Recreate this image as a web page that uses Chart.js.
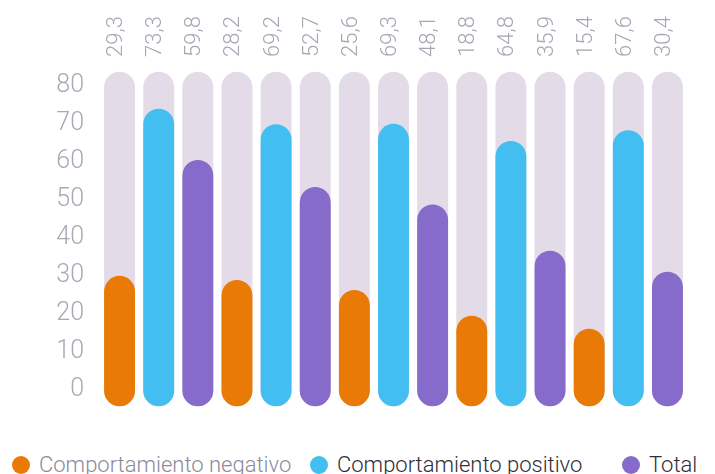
<!DOCTYPE html>
<html lang="es">
  <head>
    <meta charset="UTF-8" />
    <title>Comportamiento</title>
    <script src="https://cdn.jsdelivr.net/npm/chart.js"></script>
    <style>
      body { margin: 0; background: #fff; font-family: Roboto, sans-serif; }
      #wrap { position: relative; width: 715px; height: 474px; overflow: hidden; }
      #chart { position: absolute; left: 0; top: 0; }
      .legend-item { position: absolute; top: 452px; display: flex; align-items: center;
        font-size: 22px; font-weight: 300; white-space: nowrap; }
      .legend-item .dot { width: 18px; height: 18px; border-radius: 50%; margin-right: 9px; }
    </style>
  </head>
  <body>
    <div id="wrap">
      <canvas id="chart" width="715" height="440"></canvas>
      <div id="legend"></div>
    </div>
    <script>
      const categories = ["1", "2", "3", "4", "5", "6", "7", "8", "9", "10", "11", "12", "13", "14", "15"];
      const negativo = [29.3, null, null, 28.2, null, null, 25.6, null, null, 18.8, null, null, 15.4, null, null];
      const positivo = [null, 73.3, null, null, 69.2, null, null, 69.3, null, null, 64.8, null, null, 67.6, null];
      const total = [null, null, 59.8, null, null, 52.7, null, null, 48.1, null, null, 35.9, null, null, 30.4];
      const yTicks = [0, 10, 20, 30, 40, 50, 60, 70, 80];

      const trackTop = 83;
      const barBase = -5;

      // floating bars so every pill starts a little under zero
      const toRange = (arr) => arr.map((v) => (v === null ? null : [barBase, v]));

      const pill = {
        grouped: false,
        barPercentage: 0.79,
        categoryPercentage: 1,
        borderRadius: 16,
        borderSkipped: false,
      };

      const datasets = [
        { label: "Comportamiento negativo", data: toRange(negativo), backgroundColor: "#e87a05", order: 1, legendColor: "#8e8a9a", ...pill },
        { label: "Comportamiento positivo", data: toRange(positivo), backgroundColor: "#42bff0", order: 1, legendColor: "#2f2d3a", ...pill },
        { label: "Total", data: toRange(total), backgroundColor: "#866bcb", order: 1, legendColor: "#2f2d3a", ...pill },
        { label: "track", data: categories.map(() => [barBase, trackTop]), backgroundColor: "#e3dbe7", order: 2, ...pill },
      ];

      const valueLabels = {
        id: "valueLabels",
        afterDatasetsDraw(chart) {
          const ctx = chart.ctx;
          const x = chart.scales.x;
          ctx.save();
          ctx.font = "300 22px Roboto";
          ctx.fillStyle = "#aaa5b3";
          ctx.textAlign = "left";
          ctx.textBaseline = "middle";
          categories.forEach((c, i) => {
            const v = negativo[i] ?? positivo[i] ?? total[i];
            const label = v.toFixed(1).replace(".", ",");
            ctx.save();
            ctx.translate(x.getPixelForValue(i) - 3, 57);
            ctx.rotate(-Math.PI / 2);
            ctx.fillText(label, 0, 0);
            ctx.restore();
          });
          ctx.restore();
        },
      };

      const chart = new Chart(document.getElementById("chart"), {
        type: "bar",
        data: { labels: categories, datasets: datasets },
        options: {
          responsive: false,
          animation: false,
          layout: { padding: { top: 68, right: 28, bottom: 30, left: 0 } },
          plugins: { legend: { display: false }, tooltip: { enabled: false } },
          scales: {
            x: { display: false },
            y: {
              min: -6,
              max: 84,
              afterBuildTicks: (axis) => { axis.ticks = yTicks.map((v) => ({ value: v })); },
              afterFit: (axis) => { axis.width = 100; },
              grid: { display: false },
              border: { display: false },
              ticks: { color: "#aca7b5", font: { family: "Roboto", size: 25, weight: 300 }, padding: 8, labelOffset: 3 },
            },
          },
        },
        plugins: [valueLabels],
      });

      // legend below the plot
      const legendPos = [12, 310, 622];
      const legend = document.getElementById("legend");
      datasets.slice(0, 3).forEach((ds, i) => {
        const item = document.createElement("div");
        item.className = "legend-item";
        item.style.left = legendPos[i] + "px";
        item.style.color = ds.legendColor;
        item.innerHTML = '<span class="dot" style="background:' + ds.backgroundColor + '"></span>' + ds.label;
        legend.appendChild(item);
      });
    </script>
  </body>
</html>
